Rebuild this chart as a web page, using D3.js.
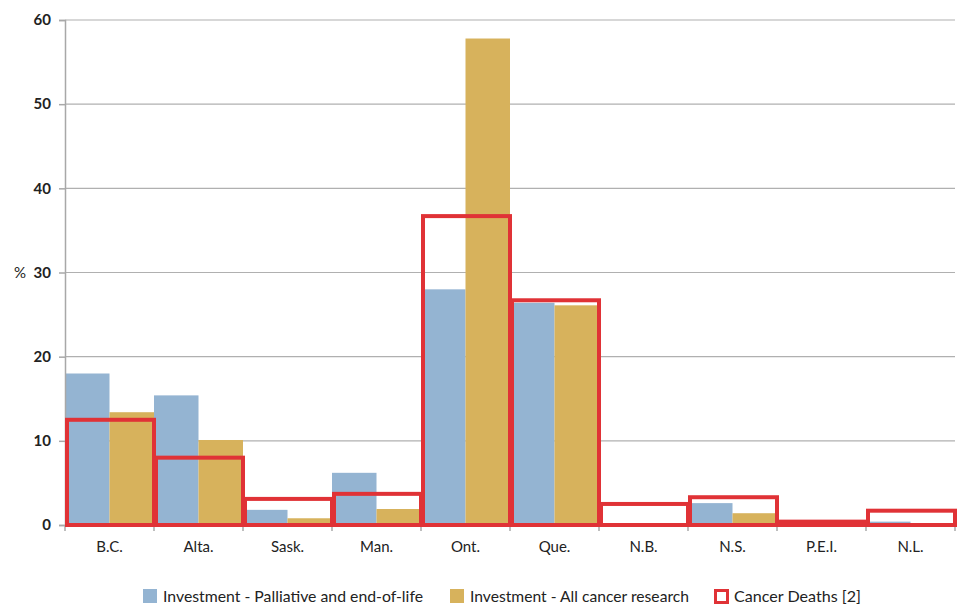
<!DOCTYPE html>
<html>
<head>
<meta charset="utf-8">
<script src="https://cdn.jsdelivr.net/npm/d3@7"></script>
<style>
  body { margin: 0; background: #fff; }
  text { font-family: Lato, "Open Sans", sans-serif; fill: #222; }
</style>
</head>
<body>
<svg id="chart" width="957" height="604"></svg>
<script>
// provinces
const provinces = ["B.C.", "Alta.", "Sask.", "Man.", "Ont.", "Que.", "N.B.", "N.S.", "P.E.I.", "N.L."];
// % of investment, palliative and end-of-life
const palliative = [18.0, 15.4, 1.8, 6.2, 28.0, 26.4, 0.05, 2.6, 0.05, 0.4];
// % of investment, all cancer research
const allResearch = [13.4, 10.1, 0.8, 1.9, 57.8, 26.1, 0.1, 1.4, 0.05, 0.2];
// % of cancer deaths
const deaths = [12.5, 8.0, 3.1, 3.7, 36.7, 26.7, 2.5, 3.3, 0.4, 1.7];
const yTicks = [0, 10, 20, 30, 40, 50, 60];

const svg = d3.select("#chart");
const margin = {left: 65, right: 2, top: 20, bottom: 79};
const width = 957 - margin.left - margin.right;
const height = 604 - margin.top - margin.bottom;

const g = svg.append("g").attr("transform", `translate(${margin.left},${margin.top})`);

const x = d3.scaleBand().domain(provinces).range([0, width]).padding(0);
const sub = d3.scaleBand().domain(["pal", "all"]).range([0, x.bandwidth()]);
const y = d3.scaleLinear().domain([0, 60]).range([height, 0]);

// gridlines
g.selectAll(".grid").data(yTicks.filter(d => d > 0)).join("line")
  .attr("x1", 0).attr("x2", width)
  .attr("y1", d => y(d)).attr("y2", d => y(d))
  .attr("stroke", "#b0b0b0").attr("stroke-width", 1.2);

// bars
g.selectAll(".pal").data(provinces).join("rect")
  .attr("x", d => x(d) + sub("pal"))
  .attr("width", sub.bandwidth())
  .attr("y", (d, i) => y(palliative[i]))
  .attr("height", (d, i) => height - y(palliative[i]))
  .attr("fill", "#94b4d2");

g.selectAll(".all").data(provinces).join("rect")
  .attr("x", d => x(d) + sub("all"))
  .attr("width", sub.bandwidth())
  .attr("y", (d, i) => y(allResearch[i]))
  .attr("height", (d, i) => height - y(allResearch[i]))
  .attr("fill", "#d7b25c");

// axes
const yAxis = g.append("g")
  .call(d3.axisLeft(y).tickValues(yTicks).tickSize(6).tickPadding(8));
yAxis.select(".domain").attr("stroke", "#a8a8a8").attr("stroke-width", 1.5);
yAxis.selectAll(".tick line").attr("stroke", "#a8a8a8").attr("stroke-width", 1.5);
yAxis.selectAll(".tick text").attr("font-size", 15).attr("font-weight", "bold")
  .attr("font-family", "Lato, sans-serif").attr("fill", "#222");

const xAxis = g.append("g").attr("transform", `translate(0,${height})`)
  .call(d3.axisBottom(x).tickSize(0).tickPadding(16));
xAxis.select(".domain").attr("stroke", "#a8a8a8").attr("stroke-width", 1.5);
xAxis.selectAll(".tick text").attr("font-size", 15)
  .attr("font-family", "Lato, sans-serif").attr("fill", "#222");

// band boundary ticks on the x axis
g.selectAll(".xtick").data(provinces.concat(["end"])).join("line")
  .attr("x1", (d, i) => i < provinces.length ? x(d) : width)
  .attr("x2", (d, i) => i < provinces.length ? x(d) : width)
  .attr("y1", height).attr("y2", height + 6)
  .attr("stroke", "#a8a8a8").attr("stroke-width", 1.5);

// cancer deaths outlines
g.selectAll(".deaths").data(provinces).join("rect")
  .attr("x", d => x(d) + 2)
  .attr("width", x.bandwidth() - 2)
  .attr("y", (d, i) => y(deaths[i]))
  .attr("height", (d, i) => height - y(deaths[i]))
  .attr("fill", "none")
  .attr("stroke", "#e03236")
  .attr("stroke-width", 4);

svg.append("text").attr("x", 14).attr("y", y(30) + margin.top + 5)
  .attr("font-size", 15).text("%");

// legend
const legendItems = [
  {label: "Investment - Palliative and end-of-life", fill: "#94b4d2", stroke: "none", x: 143, w: 260},
  {label: "Investment - All cancer research", fill: "#d7b25c", stroke: "none", x: 450, w: 219},
  {label: "Cancer Deaths [2]", fill: "#fff", stroke: "#e03236", x: 714, w: 127}
];
const legend = svg.append("g").attr("transform", "translate(0,589)");
legendItems.forEach(item => {
  if (item.stroke === "none") {
    legend.append("rect").attr("x", item.x).attr("y", 0).attr("width", 14).attr("height", 14)
      .attr("fill", item.fill);
  } else {
    legend.append("rect").attr("x", item.x + 1.5).attr("y", 1.5).attr("width", 12).attr("height", 12)
      .attr("fill", item.fill).attr("stroke", item.stroke).attr("stroke-width", 3);
  }
  legend.append("text").attr("x", item.x + 20).attr("y", 12.5)
    .attr("font-size", 16)
    .attr("textLength", item.w).attr("lengthAdjust", "spacingAndGlyphs")
    .text(item.label);
});
</script>
</body>
</html>
